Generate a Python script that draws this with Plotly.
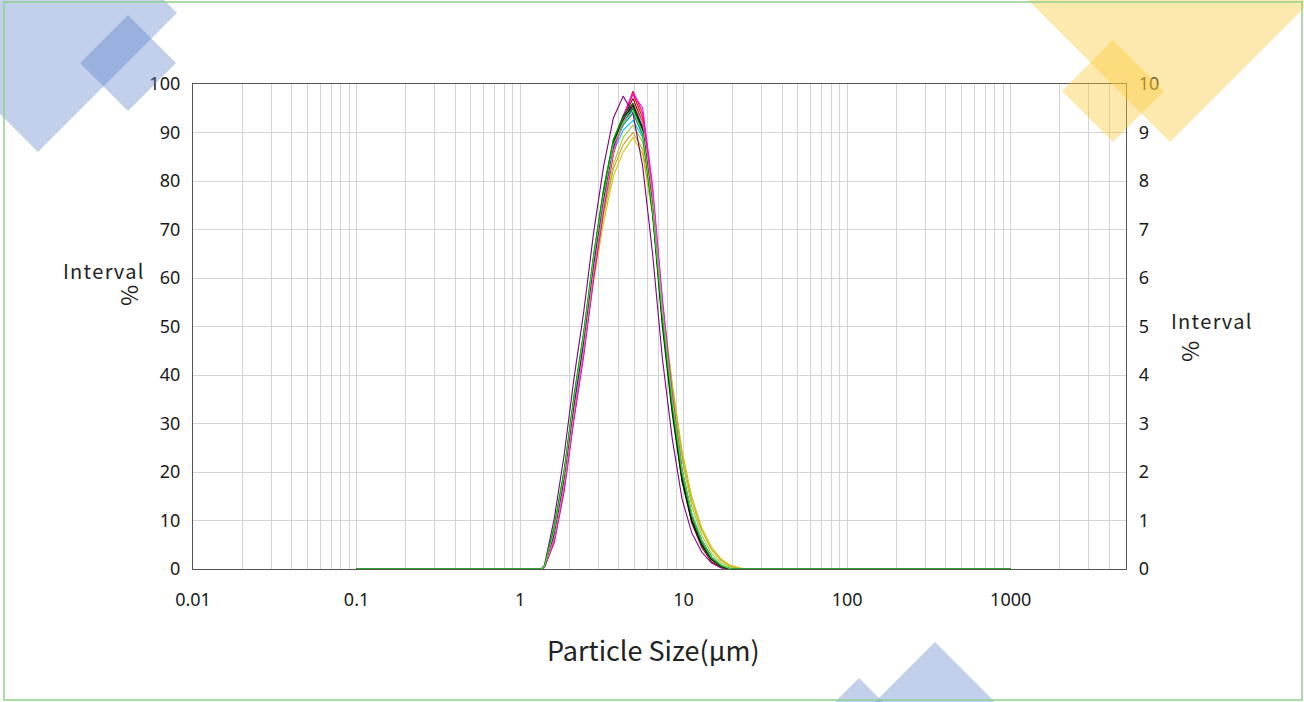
import plotly.graph_objects as go

# ---------------- data ----------------
# particle size classes (µm)
sizes = [0.1, 1.35, 1.41, 1.62, 1.86, 2.14, 2.45, 2.82, 3.24, 3.72, 4.27, 4.90,
         5.62, 6.46, 7.41, 8.51, 9.77, 11.2, 12.9, 14.8, 17.0, 19.5, 22.4, 25.7, 29.5, 1000]

s_black = [0, 0, 0.05, 0.80, 1.95, 3.50, 4.80, 6.40, 7.75, 8.80, 9.30, 9.55, 9.05, 7.40, 5.10, 3.30, 1.85, 1.00, 0.50, 0.20, 0.05, 0, 0, 0, 0, 0]
s_navy = [0, 0, 0.04, 0.70, 1.85, 3.40, 4.70, 6.30, 7.65, 8.70, 9.25, 9.60, 9.10, 7.50, 5.20, 3.35, 1.90, 1.05, 0.55, 0.20, 0.05, 0, 0, 0, 0, 0]
s_blue = [0, 0, 0.04, 0.65, 1.80, 3.35, 4.65, 6.25, 7.60, 8.65, 9.20, 9.50, 9.05, 7.50, 5.30, 3.45, 2.00, 1.10, 0.60, 0.25, 0.07, 0, 0, 0, 0, 0]
s_cyan = [0, 0, 0.05, 0.75, 1.90, 3.45, 4.70, 6.25, 7.55, 8.60, 9.05, 9.25, 8.90, 7.50, 5.35, 3.50, 2.05, 1.15, 0.60, 0.25, 0.07, 0, 0, 0, 0, 0]
s_teal = [0, 0, 0.05, 0.80, 1.95, 3.50, 4.80, 6.40, 7.70, 8.70, 9.15, 9.40, 8.95, 7.45, 5.25, 3.40, 2.00, 1.10, 0.55, 0.22, 0.05, 0, 0, 0, 0, 0]
s_dkgreen = [0, 0, 0.06, 0.85, 2.00, 3.55, 4.85, 6.45, 7.80, 8.85, 9.35, 9.60, 9.05, 7.30, 5.00, 3.20, 1.80, 1.00, 0.50, 0.20, 0.05, 0, 0, 0, 0, 0]
s_ygreen = [0, 0, 0.05, 0.75, 1.85, 3.35, 4.60, 6.10, 7.35, 8.35, 8.90, 9.15, 8.80, 7.45, 5.45, 3.70, 2.25, 1.30, 0.70, 0.32, 0.12, 0.03, 0, 0, 0, 0]
s_olive = [0, 0, 0.05, 0.70, 1.80, 3.25, 4.50, 5.95, 7.15, 8.10, 8.60, 8.90, 8.55, 7.30, 5.50, 3.85, 2.45, 1.50, 0.85, 0.45, 0.20, 0.07, 0.02, 0, 0, 0]
s_gold = [0, 0, 0.05, 0.70, 1.80, 3.30, 4.55, 6.05, 7.30, 8.25, 8.75, 9.00, 8.65, 7.35, 5.45, 3.75, 2.35, 1.40, 0.80, 0.40, 0.17, 0.05, 0, 0, 0, 0]
s_red = [0, 0, 0.04, 0.60, 1.70, 3.20, 4.50, 6.10, 7.50, 8.60, 9.30, 9.80, 9.30, 7.70, 5.40, 3.50, 2.00, 1.10, 0.55, 0.20, 0.05, 0, 0, 0, 0, 0]
s_crimson = [0, 0, 0.03, 0.55, 1.60, 3.10, 4.40, 6.00, 7.40, 8.55, 9.30, 9.85, 9.40, 7.80, 5.50, 3.55, 2.05, 1.10, 0.55, 0.22, 0.05, 0, 0, 0, 0, 0]
s_magenta = [0, 0, 0.04, 0.60, 1.65, 3.15, 4.45, 6.05, 7.45, 8.60, 9.35, 9.80, 9.50, 7.90, 5.60, 3.60, 2.05, 1.10, 0.55, 0.20, 0.05, 0, 0, 0, 0, 0]
s_purple = [0, 0, 0.08, 1.05, 2.35, 3.95, 5.30, 6.95, 8.30, 9.30, 9.75, 9.40, 8.30, 6.50, 4.35, 2.70, 1.45, 0.75, 0.35, 0.12, 0.02, 0, 0, 0, 0, 0]
s_pink = [0, 0, 0.04, 0.65, 1.75, 3.25, 4.55, 6.15, 7.50, 8.60, 9.20, 9.60, 9.20, 7.70, 5.40, 3.45, 2.00, 1.05, 0.50, 0.20, 0.05, 0, 0, 0, 0, 0]
s_maroon = [0, 0, 0.05, 0.75, 1.90, 3.45, 4.75, 6.35, 7.70, 8.75, 9.30, 9.70, 9.20, 7.50, 5.15, 3.30, 1.85, 0.95, 0.45, 0.15, 0.03, 0, 0, 0, 0, 0]
s_green = [0, 0, 0.06, 0.90, 2.05, 3.60, 4.90, 6.50, 7.85, 8.85, 9.30, 9.50, 9.00, 7.35, 5.15, 3.35, 1.95, 1.10, 0.55, 0.22, 0.06, 0, 0, 0, 0, 0]
s_lime = [0, 0, 0.05, 0.80, 1.95, 3.50, 4.80, 6.40, 7.70, 8.75, 9.20, 9.45, 9.00, 7.45, 5.30, 3.50, 2.05, 1.15, 0.60, 0.25, 0.08, 0, 0, 0, 0, 0]

series = [
    ("#8b0000", s_maroon), ("#c8c800", s_olive), ("#d4a017", s_gold),
    ("#9acd32", s_ygreen), ("#00bfff", s_cyan), ("#008080", s_teal),
    ("#0000ff", s_blue), ("#000080", s_navy), ("#ff0000", s_red),
    ("#dc143c", s_crimson), ("#ff00ff", s_magenta), ("#ff69b4", s_pink),
    ("#800080", s_purple), ("#006400", s_dkgreen), ("#000000", s_black),
    ("#00a000", s_green), ("#44dd44", s_lime),
]

x_decades = [0.01, 0.1, 1, 10, 100, 1000]
x_tick_labels = ["0.01", "0.1", "1", "10", "100", "1000"]
y_left_ticks = [0, 10, 20, 30, 40, 50, 60, 70, 80, 90, 100]
y_right_ticks = [0, 1, 2, 3, 4, 5, 6, 7, 8, 9, 10]

# ---------------- figure ----------------
W, H = 1304, 702
L, R, T, B = 193, 178, 84, 133
PW, PH = W - L - R, H - T - B

fig = go.Figure()
# invisible trace so the left (0-100) axis is drawn
fig.add_trace(go.Scatter(x=[1], y=[0], mode="markers", yaxis="y",
                         marker=dict(opacity=0, size=1), hoverinfo="skip", showlegend=False))
for color, vals in series:
    fig.add_trace(go.Scatter(x=sizes, y=vals, mode="lines", yaxis="y2",
                             line=dict(color=color, width=1.1), hoverinfo="skip",
                             showlegend=False))

# grid ticks: 1..9 in every decade
grid_vals, grid_text = [], []
for d, lab in zip(x_decades, x_tick_labels):
    for m in range(1, 10):
        v = d * m
        if v <= 5000:
            grid_vals.append(v)
            grid_text.append(lab if m == 1 else "")

tick_font = dict(family="Noto Sans, Open Sans, sans-serif", size=18, color="#1a1a1a")
frame = "#555555"

fig.update_layout(
    width=W, height=H,
    margin=dict(l=L, r=R, t=T, b=B, pad=0),
    paper_bgcolor="white", plot_bgcolor="white",
    xaxis=dict(type="log", range=[-2, 3.705], tickvals=grid_vals, ticktext=grid_text,
               showgrid=True, gridcolor="#d4d4d4", gridwidth=1, ticks="",
               showline=True, linecolor=frame, linewidth=1.3, mirror=True,
               tickfont=tick_font, ticklabelstandoff=14, zeroline=False),
    yaxis=dict(range=[0, 100], tickvals=y_left_ticks, showgrid=True, gridcolor="#d4d4d4",
               ticks="", showline=True, linecolor=frame, linewidth=1.3,
               tickfont=tick_font, ticklabelstandoff=8, zeroline=False),
    yaxis2=dict(range=[0, 10], tickvals=y_right_ticks, overlaying="y", side="right",
                showgrid=False, ticks="", showline=True, linecolor=frame, linewidth=1.3,
                tickfont=tick_font, ticklabelstandoff=8, zeroline=False),
)

def px(x, y):
    return ((x - L) / PW, (H - B - y) / PH)

def diamond(cx, cy, r, fill):
    pts = [px(cx, cy - r), px(cx + r, cy), px(cx, cy + r), px(cx - r, cy)]
    path = "M " + " L ".join(f"{a:.5f},{b:.5f}" for a, b in pts) + " Z"
    fig.add_shape(type="path", path=path, xref="paper", yref="paper",
                  fillcolor=fill, line=dict(width=0), layer="above")

blue = "rgba(80,120,200,0.35)"
yellow = "rgba(250,200,50,0.40)"
diamond(38, 13, 139, blue)
diamond(128, 63, 48, blue)
diamond(1170, 0, 142, yellow)
diamond(1113, 91, 51, yellow)
diamond(935, 702, 60, blue)
diamond(859, 702, 24, blue)

# green page border
x0, y0 = px(4, 2)
x1, y1 = px(1302, 700)
fig.add_shape(type="rect", xref="paper", yref="paper", x0=x0, y0=y0, x1=x1, y1=y1,
              line=dict(color="#8fd18f", width=1.5), fillcolor="rgba(0,0,0,0)", layer="above")

title_font = dict(family="Noto Sans CJK SC, Noto Sans, sans-serif", size=20, color="#222222")
pct_font = dict(family="Noto Sans CJK SC, Noto Sans, sans-serif", size=23, color="#222222")
def ann(text, x, y, font, angle=0):
    ax, ay = px(x, y)
    fig.add_annotation(text=text, x=ax, y=ay, xref="paper", yref="paper", showarrow=False,
                       font=font, textangle=angle, xanchor="center", yanchor="middle")

ann("I n t e r v a l".replace(" ", "\u200a"), 103, 270, title_font)
ann("%", 128, 296, pct_font, -90)
ann("I n t e r v a l".replace(" ", "\u200a"), 1211, 320, title_font)
ann("%", 1189, 352, pct_font, -90)
ann("Particle Size(μm)", 653, 649,
    dict(family="Noto Sans CJK SC, Noto Sans, sans-serif", size=27, color="#222222"))

fig.write_html("out.html", config={"displayModeBar": False},
               post_script="document.body.style.margin='0';")
